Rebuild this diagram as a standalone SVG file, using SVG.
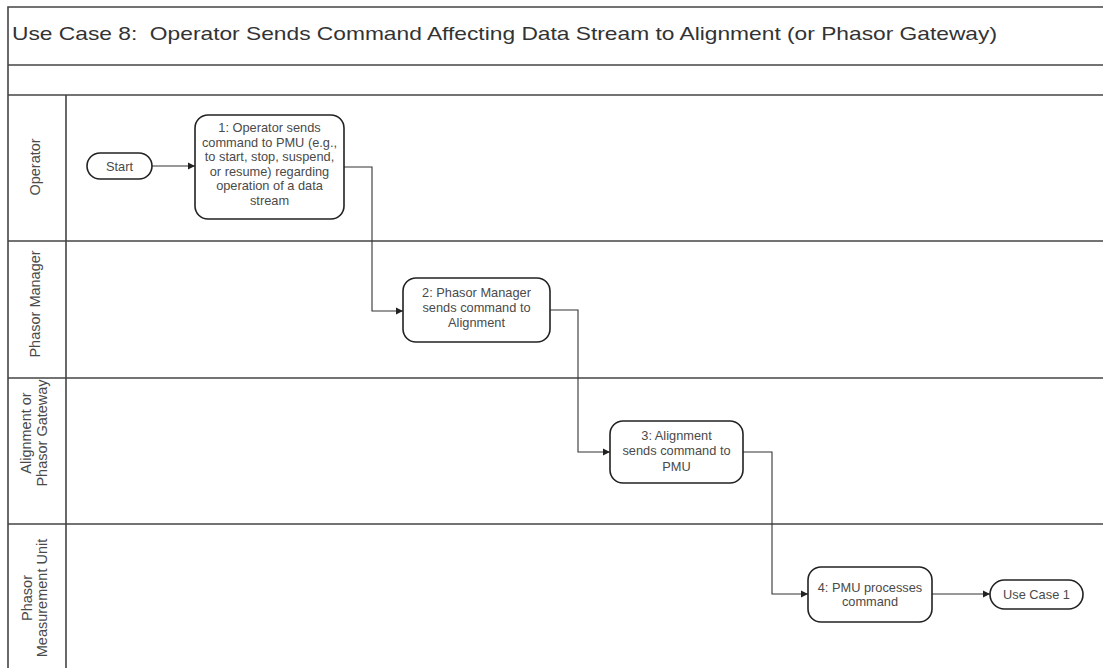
<svg xmlns="http://www.w3.org/2000/svg" width="1103" height="668" viewBox="0 0 1103 668">
<style>
.frame{fill:none;stroke:#444;stroke-width:1.6}
.lane{fill:none;stroke:#444;stroke-width:1.6}
.node{fill:#fff;stroke:#222;stroke-width:1.6}
.conn{fill:none;stroke:#333;stroke-width:1.1}
.t{font-family:"Liberation Sans",Arial,sans-serif;fill:#4a4a4a;font-size:12.8px;text-anchor:middle}
.lbl{font-family:"Liberation Sans",Arial,sans-serif;fill:#4a4a4a;font-size:14.5px;text-anchor:middle}
.title{font-family:"Liberation Sans",Arial,sans-serif;fill:#333;font-size:19px;white-space:pre}
</style>
<defs>
<marker id="arr" markerWidth="8" markerHeight="8" refX="7" refY="4" orient="auto" markerUnits="userSpaceOnUse">
<path d="M0,0.5 L7,4 L0,7.5 Z" fill="#222"/>
</marker>
</defs>
<rect width="1103" height="668" fill="#fff"/>
<g id="pool">
<path class="frame" d="M1103,7 H8 V668"/>
<line class="frame" x1="8" y1="65" x2="1103" y2="65"/>
<line class="frame" x1="8" y1="95" x2="1103" y2="95"/>
<line class="lane" x1="66" y1="95" x2="66" y2="668"/>
<line class="lane" x1="8" y1="241" x2="1103" y2="241"/>
<line class="lane" x1="8" y1="378" x2="1103" y2="378"/>
<line class="lane" x1="8" y1="524" x2="1103" y2="524"/>
<text class="title" xml:space="preserve" x="12" y="40" textLength="985" lengthAdjust="spacingAndGlyphs">Use Case 8:  Operator Sends Command Affecting Data Stream to Alignment (or Phasor Gateway)</text>
</g>
<g id="lane-labels">
<text class="lbl" transform="translate(40,167) rotate(-90)">Operator</text>
<text class="lbl" transform="translate(40,304) rotate(-90)">Phasor Manager</text>
<text class="lbl" transform="translate(31,433) rotate(-90)">Alignment or</text>
<text class="lbl" transform="translate(47,433) rotate(-90)">Phasor Gateway</text>
<text class="lbl" transform="translate(32,598) rotate(-90)">Phasor</text>
<text class="lbl" transform="translate(47,598) rotate(-90)">Measurement Unit</text>
</g>
<g id="connectors">
<path class="conn" d="M152,166 H195" marker-end="url(#arr)"/>
<path class="conn" d="M344,167 H372 V311 H403" marker-end="url(#arr)"/>
<path class="conn" d="M550,310 H578 V452 H610" marker-end="url(#arr)"/>
<path class="conn" d="M743,452 H772 V594 H808" marker-end="url(#arr)"/>
<path class="conn" d="M932,594 H990" marker-end="url(#arr)"/>
</g>
<g id="start">
<rect class="node" x="87" y="153" width="65" height="26" rx="13"/>
<text class="t" x="119.5" y="171">Start</text>
</g>
<g id="step1">
<rect class="node" x="195" y="115" width="149" height="104" rx="13"/>
<text class="t" x="269.5" y="132">1: Operator sends</text>
<text class="t" x="269.5" y="146.5">command to PMU (e.g.,</text>
<text class="t" x="269.5" y="161">to start, stop, suspend,</text>
<text class="t" x="269.5" y="175.5">or resume) regarding</text>
<text class="t" x="269.5" y="190">operation of a data</text>
<text class="t" x="269.5" y="204.5">stream</text>
</g>
<g id="step2">
<rect class="node" x="403" y="278" width="147" height="64" rx="13"/>
<text class="t" x="476.5" y="297">2: Phasor Manager</text>
<text class="t" x="476.5" y="312">sends command to</text>
<text class="t" x="476.5" y="327">Alignment</text>
</g>
<g id="step3">
<rect class="node" x="610" y="421" width="133" height="62" rx="13"/>
<text class="t" x="676.5" y="439.5">3: Alignment</text>
<text class="t" x="676.5" y="455">sends command to</text>
<text class="t" x="676.5" y="470.5">PMU</text>
</g>
<g id="step4">
<rect class="node" x="808" y="567" width="124" height="55" rx="13"/>
<text class="t" x="870" y="591.5">4: PMU processes</text>
<text class="t" x="870" y="606">command</text>
</g>
<g id="usecase1">
<rect class="node" x="990" y="580" width="93" height="29" rx="14.5"/>
<text class="t" x="1036.5" y="599">Use Case 1</text>
</g>
</svg>
